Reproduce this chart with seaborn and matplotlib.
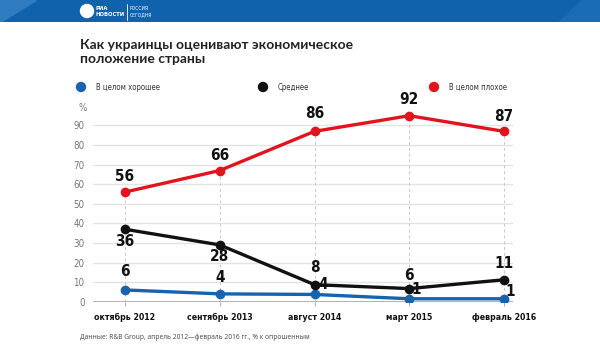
import matplotlib
matplotlib.use("Agg")
import matplotlib.pyplot as plt
import matplotlib.patches as mpatches
import seaborn as sns
import pandas as pd

# ---- data ----
periods = ["октябрь 2012", "сентябрь 2013", "август 2014", "март 2015", "февраль 2016"]
series_names = ["В целом хорошее", "Среднее", "В целом плохое"]
good_vals = [6, 4, 3.7, 1.5, 1.5]
avg_vals = [37, 29, 8.7, 6.7, 11.2]
bad_vals = [56, 67, 87, 95, 87]
good_labels = ["6", "4", "4", "1", "1"]
avg_labels = ["36", "28", "8", "6", "11"]
bad_labels = ["56", "66", "86", "92", "87"]
y_ticks = [0, 10, 20, 30, 40, 50, 60, 70, 80, 90]

colors = {"В целом хорошее": "#1763ad", "Среднее": "#111111", "В целом плохое": "#e1141e"}

df = pd.DataFrame({
    "x": list(range(len(periods))) * 3,
    "value": good_vals + avg_vals + bad_vals,
    "series": [series_names[0]] * 5 + [series_names[1]] * 5 + [series_names[2]] * 5,
})

sns.set_theme(style="white")
plt.rcParams["font.family"] = ["Open Sans", "DejaVu Sans"]
COND = dict(family="DejaVu Sans", stretch="condensed")

W, H = 600, 355
fig = plt.figure(figsize=(W / 100, H / 100), dpi=100)

def fx(px):
    return px / W

def fy(py):
    return 1 - py / H

# header banner
bg = fig.add_axes([0, fy(22), 1, 22 / H])
bg.set_xlim(0, 1)
bg.set_ylim(0, 1)
bg.axis("off")
bg.add_patch(mpatches.Rectangle((0, 0), 1, 1, color="#1062ad"))
bg.add_patch(mpatches.Polygon([(0, 0), (0, 1), (0.06, 1), (0.0, 0.0)], color="#2f7cc0"))
bg.add_patch(mpatches.Polygon([(0.93, 0), (1, 0), (1, 1), (0.97, 1)], color="#1a6cb6"))
fig.add_artist(mpatches.Ellipse((fx(87), fy(11)), 13 / W, 13 / H, color="white"))
fig.text(fx(96), fy(8), "РИА", color="white", fontsize=4.2, fontweight="bold", va="center", **COND)
fig.text(fx(96), fy(15), "НОВОСТИ", color="white", fontsize=4.2, fontweight="bold", va="center", **COND)
fig.add_artist(plt.Line2D([fx(127), fx(127)], [fy(4), fy(20)], color="white", lw=0.6))
fig.text(fx(130), fy(8), "РОССИЯ", color="white", fontsize=3.6, va="center", **COND)
fig.text(fx(130), fy(15), "СЕГОДНЯ", color="white", fontsize=3.6, va="center", **COND)

# title
fig.text(fx(80), fy(39), "Как украинцы оценивают экономическое\nположение страны",
         fontsize=10, fontweight="bold", color="#222222", va="top", ha="left",
         linespacing=1.2, family=["Lato", "DejaVu Sans"])

# legend
for cx, name in [(81, series_names[0]), (263, series_names[1]), (434, series_names[2])]:
    fig.add_artist(mpatches.Ellipse((fx(cx), fy(87)), 9 / W, 9 / H, color=colors[name]))
    fig.text(fx(cx + 15), fy(87), name, fontsize=5.6, color="#333333", va="center", ha="left", **COND)

# main axes
y0_px, ypx10 = 301.7, 19.58
top_px = y0_px - 100 * ypx10 / 10
ax = fig.add_axes([fx(93), fy(y0_px), fx(513) - fx(93), (y0_px - top_px) / H])
x_sp = (504 - 125) / 4
ax.set_xlim(-(125 - 93) / x_sp, 4 + (513 - 504) / x_sp)
ax.set_ylim(0, 100)

for y in y_ticks[1:]:
    ax.axhline(y, color="#e3e3e3", lw=1.0, zorder=0)
ax.axhline(0, color="#b0b0b0", lw=1.4, zorder=1)
for i, v in enumerate(bad_vals):
    ax.plot([i, i], [0, v], color="#c8c8c8", lw=0.7, ls=(0, (3, 3)), zorder=0.5)

sns.lineplot(data=df, x="x", y="value", hue="series", palette=colors, marker="o",
             markersize=7, markeredgewidth=0, linewidth=2.4, legend=False, ax=ax, zorder=3)

offsets_bad = [(0, 16), (0, 15.5), (0, 18), (0, 16), (0, 15)]
offsets_avg = [(0, -12), (0, -12), (0, 17), (0, 13), (0, 16)]
offsets_good = [(0, 18), (0, 16), (9, 9.5), (7, 9), (6, 7)]
for vals, labs, offs in [(bad_vals, bad_labels, offsets_bad),
                         (avg_vals, avg_labels, offsets_avg),
                         (good_vals, good_labels, offsets_good)]:
    for i, (v, lab, off) in enumerate(zip(vals, labs, offs)):
        ax.annotate(lab, (i, v), xytext=off, textcoords="offset pixels", ha="center",
                    va="center", fontsize=11, fontweight="bold", color="#111111",
                    zorder=5, **COND)

ax.set_yticks(y_ticks)
ax.set_yticklabels([str(t) for t in y_ticks], fontsize=7, color="#777777", **COND)
ax.set_xticks(range(len(periods)))
ax.set_xticklabels(periods, fontsize=6.3, fontweight="bold", color="#111111", **COND)
ax.tick_params(axis="y", length=0, pad=6)
ax.tick_params(axis="x", length=3, width=0.8, color="#b0b0b0", pad=5, bottom=True)
ax.set_xlabel("")
ax.set_ylabel("")
for s in ax.spines.values():
    s.set_visible(False)
ax.patch.set_alpha(0)

fig.text(fx(87), fy(108), "%", fontsize=7, color="#777777", ha="right", va="center", **COND)

fig.text(fx(80), fy(337), "Данные: R&B Group, апрель 2012—февраль 2016 гг., % к опрошенным",
         fontsize=4.8, color="#444444", ha="left", va="center")

fig.savefig("out.png", dpi=100)
